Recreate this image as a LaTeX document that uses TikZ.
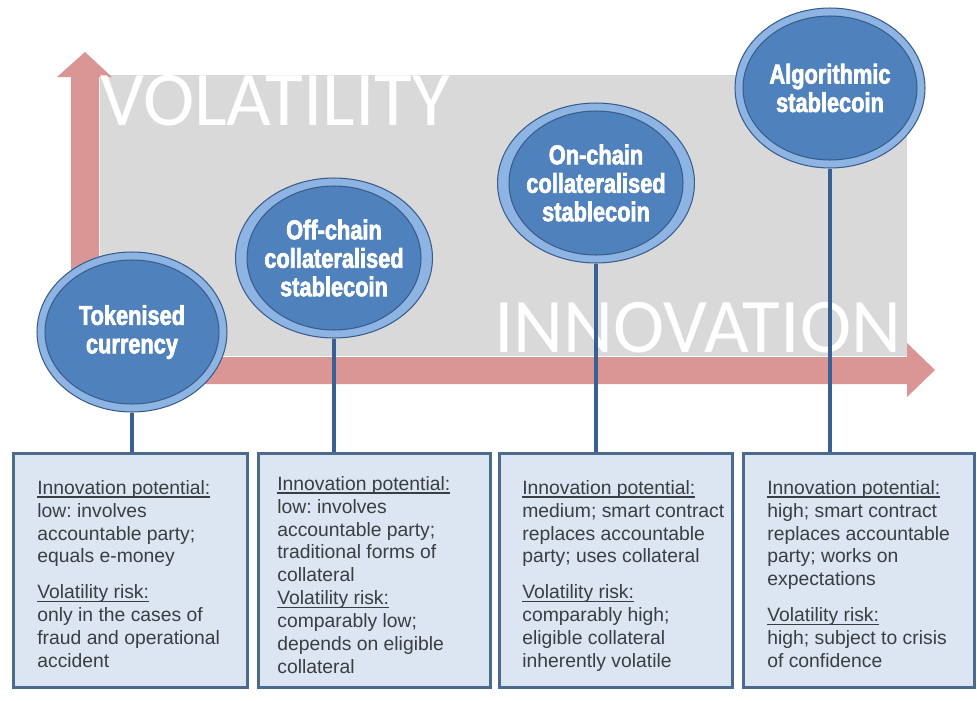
\documentclass[tikz,border=0pt]{standalone}
\usepackage{fontspec}
\setmainfont{Liberation Sans}
\newfontfamily\coinfont[FakeStretch=0.8,FakeBold=2.4]{Liberation Sans}
\newfontfamily\axisfont{Carlito}
\usetikzlibrary{shapes.geometric}
\definecolor{panelgray}{HTML}{D9D9D9}
\definecolor{arrowpink}{HTML}{D99694}
\definecolor{ringblue}{HTML}{8EB4E3}
\definecolor{coinblue}{HTML}{4F81BD}
\definecolor{coinedge}{HTML}{385D8A}
\definecolor{connblue}{HTML}{3A5F94}
\definecolor{boxfill}{HTML}{DCE6F2}
\definecolor{boxedge}{HTML}{4A6A90}
\definecolor{bodytext}{HTML}{3A3D42}
\newsavebox\ulsave
\newcommand{\ulbox}[1]{\sbox\ulsave{#1}\rlap{\rule[-1.8pt]{\wd\ulsave}{0.6pt}}\usebox\ulsave}
\frenchspacing
\begin{document}
\begin{tikzpicture}[x=0.02cm,y=-0.02cm,
  axislabel/.style={inner sep=0pt, anchor=base west, text=white, font=\axisfont\fontsize{44}{50}\selectfont},
  coin/.style={ellipse, minimum width=3.8cm, minimum height=3.2cm, inner sep=0pt,
    fill=ringblue, draw=coinedge, line width=0.6pt, align=center, text=white,
    font=\coinfont\bfseries\fontsize{15.5}{16.2}\selectfont,
    path picture={\fill[coinblue, draw=coinedge, line width=0.6pt]
      (path picture bounding box.center) ellipse [x radius=1.74cm, y radius=1.44cm];}},
  infobox/.style={rectangle, fill=boxfill, draw=boxedge, line width=1.7pt, inner sep=0pt, minimum height=4.7cm},
  boxtext/.style={anchor=north west, inner sep=0pt, align=left, text=bodytext, font=\frenchspacing\fontsize{11}{13}\selectfont},
  conn/.style={draw=connblue, line width=2.2pt}
]
\useasboundingbox (0,0) rectangle (977,700);
\fill[white] (0,0) rectangle (977,700);
\fill[panelgray] (100,75) rectangle (907,356);
\fill[arrowpink] (71,384) -- (71,77) -- (57,77) -- (85,52) -- (112,77) -- (99,77) -- (99,357)
  -- (907,357) -- (907,343) -- (935,370) -- (907,397) -- (907,384) -- cycle;
\node[axislabel] (vol) at (100,125) {VOLATILITY};
\node[axislabel] (inn) at (494,352) {INNOVATION};

\node[coin] (c1) at (132,332) {Tokenised\\currency};
\node[coin] (c2) at (334,258) {Off-chain\\collateralised\\stablecoin};
\node[coin] (c3) at (596,183) {On-chain\\collateralised\\stablecoin};
\node[coin] (c4) at (830,88) {Algorithmic\\stablecoin};

\node[infobox, minimum width=4.7cm] (b1) at (130.5,570.5) {};
\node[infobox, minimum width=4.66cm] (b2) at (374.5,570.5) {};
\node[infobox, minimum width=4.68cm] (b3) at (616,570.5) {};
\node[infobox, minimum width=4.64cm] (b4) at (859,570.5) {};

\draw[conn] (c1.south) -- (c1.south |- b1.north);
\draw[conn] (c2.south) -- (c2.south |- b2.north);
\draw[conn] (c3.south) -- (c3.south |- b3.north);
\draw[conn] (c4.south) -- (c4.south |- b4.north);

\node[boxtext] (t1) at (37,478) {\strut\ulbox{Innovation potential:}\\low: involves\\accountable party;\\equals e-money\\[7.5pt]\ulbox{Volatility risk:}\\only in the cases of\\fraud and operational\\accident};
\node[boxtext] (t2) at (277,474) {\strut\ulbox{Innovation potential:}\\low: involves\\accountable party;\\traditional forms of\\collateral\\\ulbox{Volatility risk:}\\comparably low;\\depends on eligible\\collateral};
\node[boxtext] (t3) at (522,478) {\strut\ulbox{Innovation potential:}\\medium; smart contract\\replaces accountable\\party; uses collateral\\[7.5pt]\ulbox{Volatility risk:}\\comparably high;\\eligible collateral\\inherently volatile};
\node[boxtext] (t4) at (767,478) {\strut\ulbox{Innovation potential:}\\high; smart contract\\replaces accountable\\party; works on\\expectations\\[7.5pt]\ulbox{Volatility risk:}\\high; subject to crisis\\of confidence};
\end{tikzpicture}
\end{document}
